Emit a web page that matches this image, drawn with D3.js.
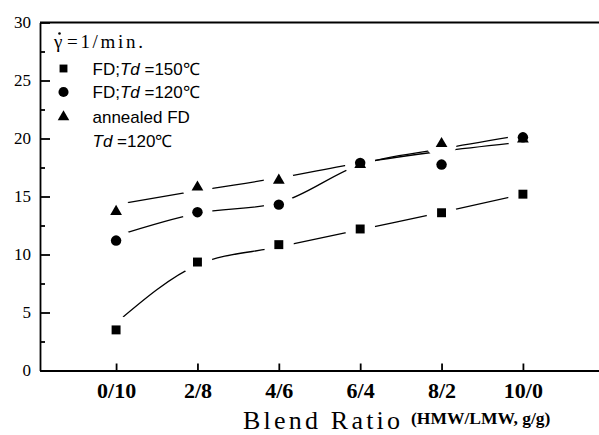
<!DOCTYPE html>
<html>
<head>
<meta charset="utf-8">
<script src="https://cdn.jsdelivr.net/npm/d3@7"></script>
<style>
  body { margin: 0; background: #fff; }
  svg { display: block; }
</style>
</head>
<body>
<svg id="chart" width="599" height="435"></svg>
<script>
// Blend ratios on the x axis
const categories = ["0/10", "2/8", "4/6", "6/4", "8/2", "10/0"];

const fd150 = [3.5, 9.35, 10.85, 12.2, 13.6, 15.2];
const fd120 = [11.2, 13.65, 14.3, 17.9, 17.75, 20.1];
const annealed = [13.7, 15.8, 16.4, 17.75, 19.55, 19.95];

// Smoothed guide curves drawn through the points (values at each ratio)
const fd150Fit = [4.1, 9.1, 10.65, 12.15, 13.63, 15.2];
const fd120Fit = [11.6, 13.55, 14.45, 17.75, 19.1, 20.3];
const annealedFit = [14.3, 15.5, 16.6, 17.9, 18.9, 19.7];

const yTicks = [0, 5, 10, 15, 20, 25, 30];
const yMinorTicks = [2.5, 7.5, 12.5, 17.5, 22.5, 27.5];

const svg = d3.select("#chart");
const width = +svg.attr("width");
const height = +svg.attr("height");
const margin = {top: 22.5, right: 0, bottom: 64.5, left: 40};

const x = d3.scalePoint()
    .domain(categories)
    .range([margin.left, width - margin.right])
    .padding(0.935);

const y = d3.scaleLinear()
    .domain([0, 30])
    .range([height - margin.bottom, margin.top]);

const series = [
    {name: "fd150", values: fd150, fit: fd150Fit, symbol: d3.symbolSquare, size: 80},
    {name: "fd120", values: fd120, fit: fd120Fit, symbol: d3.symbolCircle, size: 86},
    {name: "annealed", values: annealed, fit: annealedFit, symbol: d3.symbolTriangle, size: 60}
];

// mask so the curves stop short of every symbol, like the original
const mask = svg.append("defs").append("mask")
    .attr("id", "gaps")
    .attr("maskUnits", "userSpaceOnUse")
    .attr("x", 0).attr("y", 0).attr("width", width).attr("height", height);
mask.append("rect").attr("width", width).attr("height", height).attr("fill", "#fff");
series.forEach(s => {
    mask.selectAll(null)
        .data(s.values)
        .enter().append("circle")
        .attr("cx", (d, i) => x(categories[i]))
        .attr("cy", d => y(d))
        .attr("r", 15)
        .attr("fill", "#000");
});

// top frame line
svg.append("line")
    .attr("x1", margin.left).attr("x2", width)
    .attr("y1", y(30)).attr("y2", y(30))
    .attr("stroke", "#000").attr("stroke-width", 1.8);

// y axis, ticks pointing inward
const yAxis = svg.append("g")
    .attr("transform", `translate(${margin.left},0)`)
    .call(d3.axisLeft(y).tickValues(yTicks).tickSize(-10).tickSizeOuter(0).tickPadding(9));
svg.append("g")
    .attr("transform", `translate(${margin.left},0)`)
    .call(d3.axisLeft(y).tickValues(yMinorTicks).tickSize(-5).tickSizeOuter(0).tickFormat(""))
    .call(g => g.select(".domain").remove());
yAxis.selectAll("text")
    .style("font-family", "'Liberation Serif', 'Times New Roman', serif")
    .style("font-size", "17px")
    .attr("fill", "#000");

// x axis
const xAxis = svg.append("g")
    .attr("transform", `translate(0,${y(0)})`)
    .call(d3.axisBottom(x).tickSize(-7).tickSizeOuter(0).tickPadding(12));
xAxis.selectAll("text")
    .style("font-family", "'Liberation Serif', 'Times New Roman', serif")
    .style("font-size", "22px")
    .style("font-weight", "bold")
    .attr("fill", "#000");

svg.selectAll(".domain, .tick line")
    .attr("stroke", "#000")
    .attr("stroke-width", 1.8);

// guide curves
const line = d3.line()
    .x((d, i) => x(categories[i]))
    .y(d => y(d))
    .curve(d3.curveMonotoneX);

svg.append("g")
    .attr("mask", "url(#gaps)")
    .selectAll("path")
    .data(series)
    .enter().append("path")
    .attr("fill", "none")
    .attr("stroke", "#000")
    .attr("stroke-width", 1.3)
    .attr("d", d => line(d.fit));

// symbols
series.forEach(s => {
    svg.append("g").selectAll("path")
        .data(s.values)
        .enter().append("path")
        .attr("transform", (d, i) => `translate(${x(categories[i])},${y(d)})`)
        .attr("d", d3.symbol().type(s.symbol).size(s.size))
        .attr("fill", "#000");
});

// legend
const legend = svg.append("g");
legend.append("text")
    .attr("x", 54).attr("y", 48)
    .style("font-family", "'Liberation Serif', serif")
    .style("font-size", "19px")
    .text("\u03B3");
legend.append("circle")
    .attr("cx", 59.5).attr("cy", 33.5).attr("r", 1.3).attr("fill", "#000");
legend.append("text")
    .attr("x", 67).attr("y", 48)
    .attr("textLength", 76)
    .attr("lengthAdjust", "spacing")
    .style("font-family", "'Liberation Serif', serif")
    .style("font-size", "19px")
    .text("=1/min.");

const legendRows = [
    {symbol: d3.symbolSquare, size: 62, y: 68.5, parts: [["FD;", false], ["Td", true], [" =150\u2103", false]]},
    {symbol: d3.symbolCircle, size: 80, y: 92, parts: [["FD;", false], ["Td", true], [" =120\u2103", false]]},
    {symbol: d3.symbolTriangle, size: 58, y: 117, parts: [["annealed FD", false]]},
    {symbol: null, size: 0, y: 141, parts: [["Td", true], [" =120\u2103", false]]}
];

legendRows.forEach(r => {
    if (r.symbol) {
        legend.append("path")
            .attr("transform", `translate(63.5,${r.y})`)
            .attr("d", d3.symbol().type(r.symbol).size(r.size))
            .attr("fill", "#000");
    }
    const t = legend.append("text")
        .attr("x", 92.5).attr("y", r.y + 6)
        .style("font-family", "'Liberation Sans', Arial, sans-serif")
        .style("font-size", "17px");
    r.parts.forEach(([str, italic]) => {
        t.append("tspan")
            .style("font-style", italic ? "italic" : "normal")
            .text(str);
    });
});

// x axis title
svg.append("text")
    .attr("x", 243).attr("y", 429)
    .attr("textLength", 157)
    .attr("lengthAdjust", "spacing")
    .style("font-family", "'Liberation Serif', serif")
    .style("font-size", "26px")
    .text("Blend Ratio");
svg.append("text")
    .attr("x", 411).attr("y", 424)
    .style("font-family", "'Liberation Serif', serif")
    .style("font-size", "17.5px")
    .style("font-weight", "bold")
    .text("(HMW/LMW, g/g)");
</script>
</body>
</html>
